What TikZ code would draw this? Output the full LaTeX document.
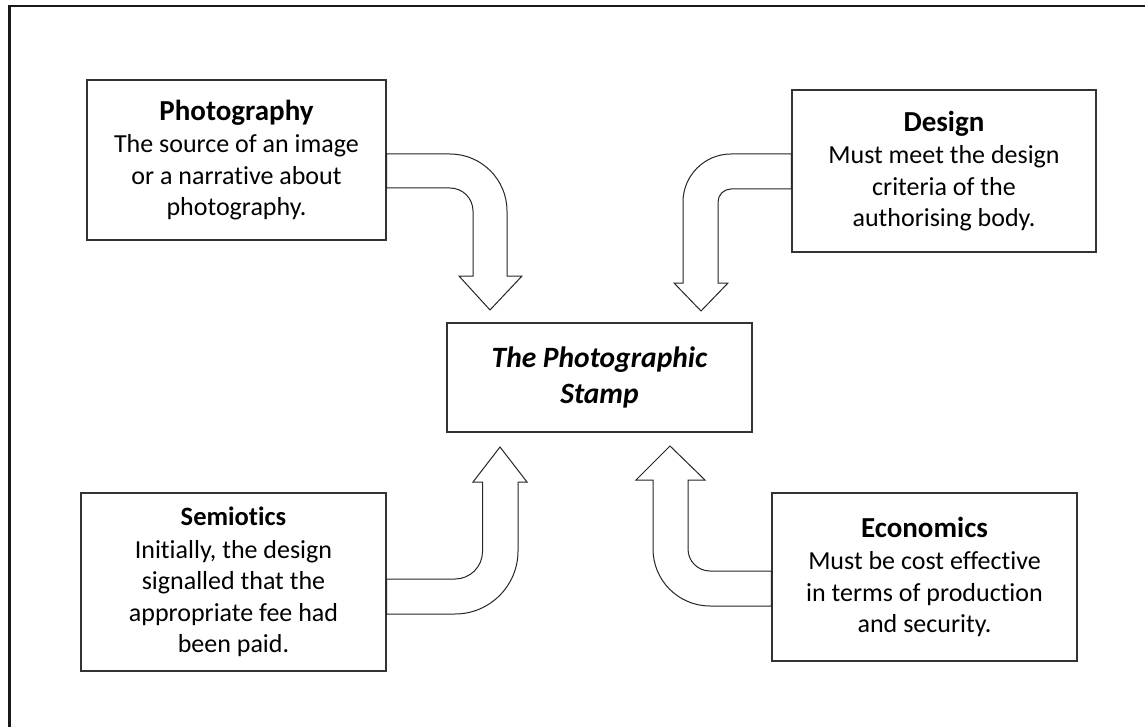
\documentclass[tikz,border=0pt]{standalone}
\usepackage{fontspec}
\setmainfont{Carlito}[Ligatures=NoCommon]
\newcommand{\bodyfont}{\fontsize{26}{31.5}\selectfont}
\newcommand{\headfont}{\fontsize{29}{34}\selectfont\bfseries}
\newcommand{\smallheadfont}{\fontsize{26.5}{32}\selectfont\bfseries}
\newcommand{\titlefont}{\fontsize{29.5}{36.5}\selectfont\bfseries\itshape}
\begin{document}
\begin{tikzpicture}[x=1pt,y=-1pt,
  pageframe/.style={line width=2.3pt, draw=black!90},
  infobox/.style={draw=black!80, line width=1.2pt, fill=white, align=center,
                  inner sep=0pt, font=\bodyfont},
  blockarrow/.style={draw=black!85, line width=1pt, fill=white, line join=miter},
]
\useasboundingbox (0,0) rectangle (1145,727);

% page frame (only top and left edges fall inside the page)
\draw[pageframe] (9.5,727) -- (9.5,6.2) -- (1145,6.2);

% boxes
\node[infobox, minimum width=299, minimum height=160] (photo) at (236.5,160)
  {{\headfont Photography}\\[1pt] The source of an image\\ or a narrative about\\ photography.};
\node[infobox, minimum width=304, minimum height=162] (design) at (944,171)
  {{\headfont Design}\\[1pt] Must meet the design\\ criteria of the\\ authorising body.};
\node[infobox, minimum width=305, minimum height=109] (stamp) at (599.5,377.5)
  {\titlefont The Photographic\\[5pt] \titlefont Stamp};
\node[infobox, minimum width=305, minimum height=178] (semio) at (233.5,582)
  {{\smallheadfont Semiotics}\\[1pt] Initially, the design\\ signalled that the\\ appropriate fee had\\ been paid.};
\node[infobox, minimum width=305, minimum height=168] (econ) at (924.5,577)
  {{\headfont Economics}\\[1pt] Must be cost effective\\ in terms of production\\ and security.};

% bent block arrows into the central box
\draw[blockarrow] (photo.east |- 0,154) -- (450,154)
  arc[start angle=-90, end angle=0, radius=57] -- (507,276) -- (522,276)
  -- (490,310) -- (459,276) -- (473,276) -- (473,211)
  arc[start angle=0, end angle=-90, radius=23] -- (photo.east |- 0,188) -- cycle;

\draw[blockarrow] (design.west |- 0,154) -- (731,154)
  arc[start angle=-90, end angle=-180, radius=48] -- (683,283) -- (674,283)
  -- (701,311) -- (728,283) -- (718,283) -- (718,202)
  arc[start angle=180, end angle=270, radius=13] -- (design.west |- 0,189) -- cycle;

\draw[blockarrow] (semio.east |- 0,579) -- (455,579)
  arc[start angle=90, end angle=0, radius=27.5] -- (482.5,482) -- (473,482)
  -- (500,447) -- (527,482) -- (518,482) -- (518,551)
  arc[start angle=0, end angle=90, radius=63] -- (semio.east |- 0,614) -- cycle;

\draw[blockarrow] (econ.west |- 0,571) -- (710,571)
  arc[start angle=90, end angle=180, radius=22] -- (688,480) -- (705,480)
  -- (670,446) -- (636,480) -- (653,480) -- (653,549)
  arc[start angle=180, end angle=90, radius=57] -- (econ.west |- 0,606) -- cycle;
\end{tikzpicture}
\end{document}
